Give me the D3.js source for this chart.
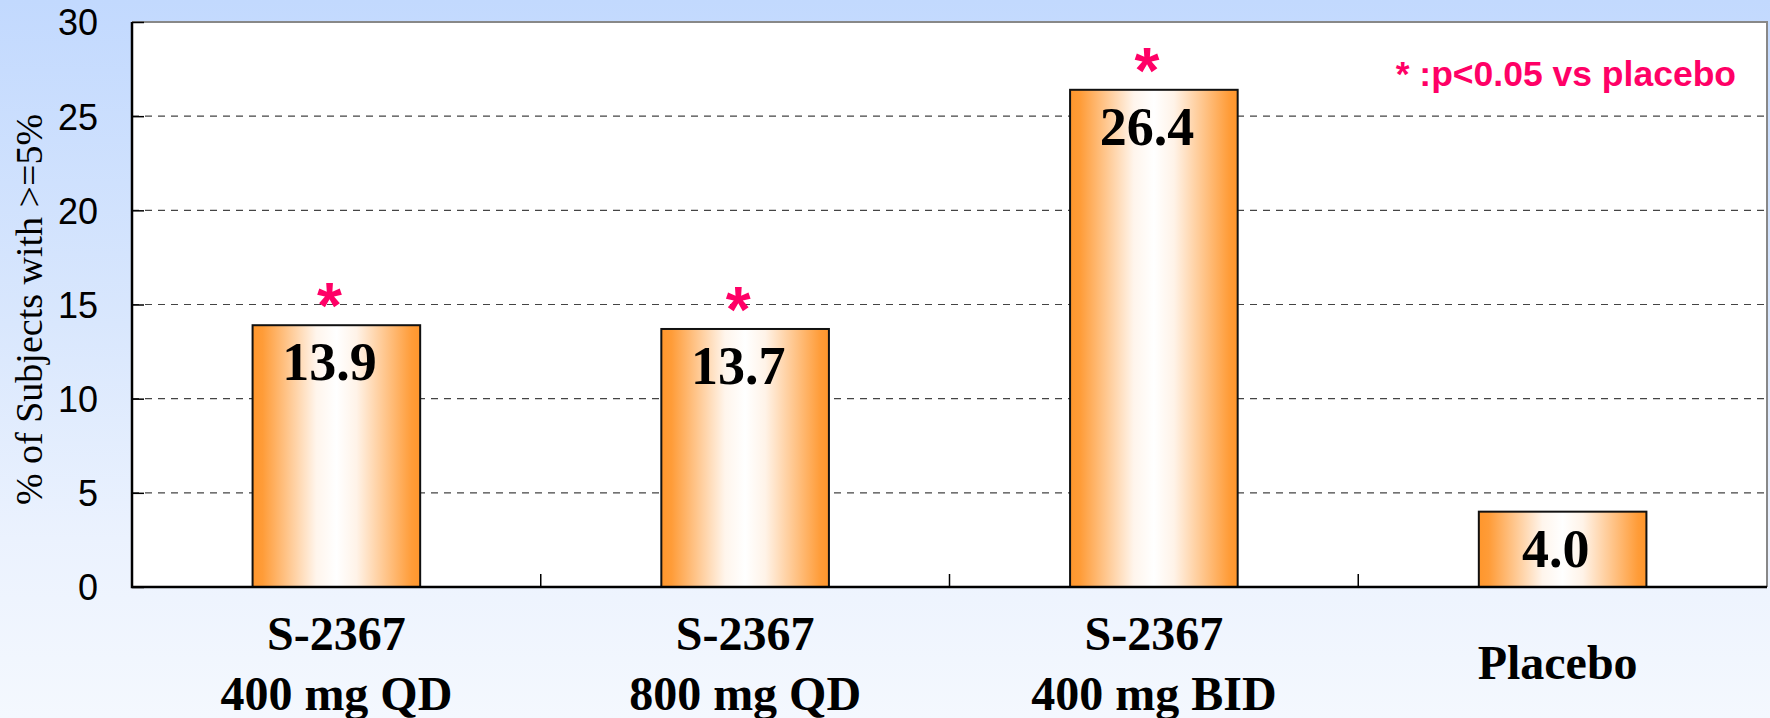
<!DOCTYPE html>
<html>
<head>
<meta charset="utf-8">
<script src="https://cdn.jsdelivr.net/npm/d3@7"></script>
<style>
  html, body { margin: 0; padding: 0; overflow: hidden; }
  svg { display: block; }
</style>
</head>
<body>
<div id="graph"></div>
<script>
// data
const categories = ["400 QD", "800 QD", "400 BID", "Placebo"];
const labelLines = [
  ["S-2367", "400 mg QD"],
  ["S-2367", "800 mg QD"],
  ["S-2367", "400 mg BID"],
  ["Placebo"]
];
const values = [13.9, 13.7, 26.4, 4.0];
const significant = [true, true, true, false];
const yTicks = [0, 5, 10, 15, 20, 25, 30];
const yTitle = "% of Subjects with >=5%";
const noteText = "* :p<0.05 vs placebo";

const width = 1770;
const height = 718;
const plot = { left: 132, right: 1767, top: 22, bottom: 587 };

const serif = "'Liberation Serif', 'Times New Roman', serif";
const sans = "'Liberation Sans', Arial, sans-serif";
const pink = "#ff0066";

let svg = d3.select('#graph')
  .append('svg')
  .attr('width', width)
  .attr('height', height);

let defs = svg.append('defs');

let bg = defs.append('linearGradient')
  .attr('id', 'bg')
  .attr('x1', 0).attr('y1', 0).attr('x2', 0).attr('y2', 1);
[[0, "#c2d9fe"], [0.45, "#d9e7fd"], [0.75, "#ebf2fe"], [1, "#f4f8fe"]]
  .forEach(s => bg.append('stop').attr('offset', s[0]).attr('stop-color', s[1]));

let barGrad = defs.append('linearGradient')
  .attr('id', 'bar')
  .attr('x1', 0).attr('y1', 0).attr('x2', 1).attr('y2', 0);
[[0, "#ff962c"], [0.06, "#ff9c38"], [0.38, "#fff5ec"], [0.5, "#ffffff"], [0.62, "#fff3e8"], [0.95, "#ff9c38"], [1, "#ff962c"]]
  .forEach(s => barGrad.append('stop').attr('offset', s[0]).attr('stop-color', s[1]));

svg.append('rect')
  .attr('width', width)
  .attr('height', height)
  .attr('fill', 'url(#bg)');

let xScale = d3.scaleBand()
  .domain(categories)
  .range([plot.left, plot.right])
  .padding(0);

let yScale = d3.scaleLinear()
  .domain([0, 30])
  .range([plot.bottom, plot.top]);

// plot area
svg.append('rect')
  .attr('x', plot.left)
  .attr('y', plot.top)
  .attr('width', plot.right - plot.left)
  .attr('height', plot.bottom - plot.top)
  .attr('fill', '#fff');

// grid lines
svg.append('g')
  .selectAll('line')
  .data(yTicks.filter(d => d > 0 && d < 30))
  .enter()
  .append('line')
  .attr('x1', plot.left)
  .attr('x2', plot.right)
  .attr('y1', d => yScale(d))
  .attr('y2', d => yScale(d))
  .attr('stroke', '#444')
  .attr('stroke-width', 1.2)
  .attr('stroke-dasharray', '7,6');

// top / right border
svg.append('path')
  .attr('d', `M${plot.left},${plot.top}H${plot.right}V${plot.bottom}`)
  .attr('fill', 'none')
  .attr('stroke', '#888')
  .attr('stroke-width', 2);

// bars
let barW = xScale.bandwidth() * 0.41;
let bars = svg.append('g').attr('class', 'bars');
bars.selectAll('rect')
  .data(values)
  .enter()
  .append('rect')
  .attr('x', (d, i) => xScale(categories[i]) + (xScale.bandwidth() - barW) / 2)
  .attr('y', d => yScale(d))
  .attr('width', barW)
  .attr('height', d => yScale(0) - yScale(d))
  .attr('fill', 'url(#bar)')
  .attr('stroke', '#111')
  .attr('stroke-width', 2);

// value labels
bars.selectAll('.val')
  .data(values)
  .enter()
  .append('text')
  .attr('class', 'val')
  .attr('x', (d, i) => xScale(categories[i]) + xScale.bandwidth() / 2 - 7)
  .attr('y', d => yScale(d) + 55)
  .attr('text-anchor', 'middle')
  .style('font-family', serif)
  .style('font-weight', 'bold')
  .style('font-size', '54px')
  .text(d => d3.format('.1f')(d));

// significance stars
bars.selectAll('.star')
  .data(values)
  .enter()
  .filter((d, i) => significant[i])
  .append('text')
  .attr('class', 'star')
  .attr('x', (d, i) => xScale(categories[values.indexOf(d)]) + xScale.bandwidth() / 2 - 7)
  .attr('y', d => yScale(d) + 3)
  .attr('text-anchor', 'middle')
  .attr('fill', pink)
  .style('font-family', sans)
  .style('font-weight', 'bold')
  .style('font-size', '64px')
  .text('*');

// y axis
let yAxis = d3.axisLeft(yScale)
  .tickValues(yTicks)
  .tickSize(-12)
  .tickPadding(34);
let yg = svg.append('g')
  .attr('transform', `translate(${plot.left},0)`)
  .call(yAxis);
yg.select('.domain').remove();
yg.selectAll('line').attr('stroke', '#000').attr('stroke-width', 1.5);
yg.selectAll('text')
  .attr('dy', '0.36em')
  .attr('fill', '#000')
  .style('font-family', sans)
  .style('font-size', '36px');

// x axis ticks at category boundaries
svg.append('g')
  .selectAll('line')
  .data(categories.slice(1))
  .enter()
  .append('line')
  .attr('x1', d => xScale(d))
  .attr('x2', d => xScale(d))
  .attr('y1', plot.bottom)
  .attr('y2', plot.bottom - 13)
  .attr('stroke', '#000')
  .attr('stroke-width', 1.5);

// left / bottom axis lines
svg.append('path')
  .attr('d', `M${plot.left},${plot.top}V${plot.bottom}H${plot.right}`)
  .attr('fill', 'none')
  .attr('stroke', '#000')
  .attr('stroke-width', 2.5);

// category labels
let catLabels = svg.append('g').attr('class', 'cat-labels');
labelLines.forEach((lines, i) => {
  let cx = xScale(categories[i]) + xScale.bandwidth() / 2;
  let t = catLabels.append('text')
    .attr('text-anchor', 'middle')
    .style('font-family', serif)
    .style('font-weight', 'bold')
    .style('font-size', '48px');
  if (lines.length > 1) {
    lines.forEach((l, j) => {
      t.append('tspan').attr('x', cx).attr('y', 650 + j * 60).text(l);
    });
  } else {
    t.attr('x', cx - 5).attr('y', 679).text(lines[0]);
  }
});

// y axis title
svg.append('text')
  .attr('transform', `translate(42, ${(plot.top + plot.bottom) / 2 + 5}) rotate(-90)`)
  .attr('text-anchor', 'middle')
  .style('font-family', serif)
  .style('font-size', '38px')
  .text(yTitle);

// significance note
svg.append('text')
  .attr('x', 1736)
  .attr('y', 86)
  .attr('text-anchor', 'end')
  .attr('fill', pink)
  .style('font-family', sans)
  .style('font-weight', 'bold')
  .style('font-size', '35.5px')
  .text(noteText);
</script>
</body>
</html>
